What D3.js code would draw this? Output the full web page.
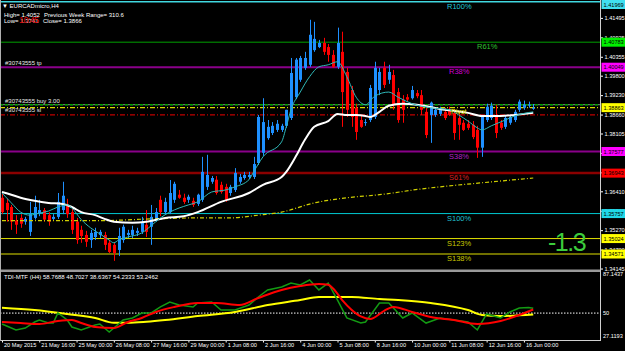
<!DOCTYPE html>
<html>
<head>
<meta charset="utf-8">
<script src="https://cdn.jsdelivr.net/npm/d3@7"></script>
<style>
  html, body { margin: 0; padding: 0; background: #000; overflow: hidden; }
  svg { display: block; }
  text { font-family: "Liberation Sans", Arial, sans-serif; }
</style>
</head>
<body>
<svg id="chart" width="625" height="351"></svg>
<script>
// EURCADmicro H4, 20 May 08:00 .. 16 Jun 08:00 — [open, high, low, close]
const candles = [
  [1.3622,1.3634,1.3574,1.3580],[1.3607,1.3619,1.3552,1.3586],[1.3595,1.3601,1.3528,1.3552],[1.3555,1.3571,1.3516,1.3543],
  [1.3563,1.3574,1.3534,1.3546],[1.3552,1.3566,1.3543,1.3560],[1.3522,1.3610,1.3510,1.3574],[1.3563,1.3628,1.3558,1.3595],
  [1.3577,1.3616,1.3568,1.3586],[1.3586,1.3592,1.3552,1.3558],[1.3571,1.3580,1.3540,1.3552],[1.3560,1.3574,1.3555,1.3566],
  [1.3566,1.3636,1.3560,1.3610],[1.3586,1.3669,1.3574,1.3628],[1.3601,1.3619,1.3563,1.3574],[1.3580,1.3592,1.3516,1.3528],
  [1.3552,1.3563,1.3487,1.3498],[1.3528,1.3540,1.3490,1.3510],[1.3513,1.3525,1.3478,1.3493],[1.3498,1.3528,1.3475,1.3519],
  [1.3507,1.3534,1.3498,1.3522],[1.3513,1.3528,1.3504,1.3522],[1.3513,1.3522,1.3469,1.3484],[1.3490,1.3498,1.3460,1.3463],
  [1.3484,1.3490,1.3437,1.3460],[1.3469,1.3534,1.3451,1.3510],[1.3498,1.3543,1.3490,1.3537],[1.3513,1.3528,1.3504,1.3519],
  [1.3513,1.3540,1.3504,1.3528],[1.3519,1.3534,1.3510,1.3525],[1.3522,1.3566,1.3516,1.3549],[1.3543,1.3586,1.3507,1.3522],
  [1.3537,1.3601,1.3484,1.3566],[1.3558,1.3592,1.3552,1.3580],[1.3616,1.3628,1.3568,1.3580],[1.3580,1.3622,1.3574,1.3610],
  [1.3580,1.3674,1.3574,1.3636],[1.3616,1.3669,1.3607,1.3663],[1.3631,1.3645,1.3619,1.3622],[1.3622,1.3634,1.3604,1.3610],
  [1.3616,1.3631,1.3607,1.3625],[1.3613,1.3622,1.3595,1.3601],[1.3604,1.3634,1.3598,1.3631],[1.3616,1.3742,1.3610,1.3698],
  [1.3654,1.3748,1.3645,1.3689],[1.3669,1.3686,1.3663,1.3680],[1.3675,1.3686,1.3631,1.3636],[1.3660,1.3669,1.3634,1.3639],
  [1.3654,1.3663,1.3610,1.3616],[1.3636,1.3660,1.3628,1.3654],[1.3645,1.3709,1.3639,1.3695],[1.3669,1.3692,1.3663,1.3683],
  [1.3680,1.3698,1.3675,1.3689],[1.3683,1.3698,1.3677,1.3689],[1.3683,1.3742,1.3677,1.3721],[1.3724,1.3865,1.3718,1.3859],
  [1.3754,1.3914,1.3745,1.3844],[1.3797,1.3850,1.3792,1.3830],[1.3812,1.3844,1.3806,1.3833],[1.3821,1.3850,1.3815,1.3839],
  [1.3821,1.3839,1.3815,1.3833],[1.3833,1.3880,1.3827,1.3880],[1.3856,1.4032,1.3850,1.3988],[1.3917,1.4032,1.3911,1.4027],
  [1.3968,1.4038,1.3962,1.4032],[1.4003,1.4050,1.3997,1.4032],[1.4012,1.4144,1.4006,1.4100],[1.4055,1.4138,1.4050,1.4088],
  [1.4064,1.4085,1.4061,1.4076],[1.4076,1.4091,1.4041,1.4050],[1.4064,1.4073,1.4021,1.4041],[1.4041,1.4055,1.4003,1.4006],
  [1.4006,1.4121,1.4000,1.4076],[1.4050,1.4109,1.3830,1.3932],[1.3991,1.4003,1.3859,1.3880],[1.3938,1.3950,1.3830,1.3859],
  [1.3886,1.3898,1.3792,1.3815],[1.3850,1.3862,1.3827,1.3830],[1.3842,1.3853,1.3833,1.3844],[1.3850,1.3953,1.3844,1.3944],
  [1.3859,1.4021,1.3853,1.4003],[1.3938,1.4003,1.3923,1.3991],[1.4003,1.4021,1.3944,1.3953],[1.3968,1.4012,1.3956,1.3991],
  [1.3982,1.3997,1.3880,1.3895],[1.3932,1.3944,1.3842,1.3850],[1.3910,1.3923,1.3842,1.3880],[1.3917,1.3926,1.3904,1.3910],
  [1.3914,1.3950,1.3910,1.3938],[1.3929,1.3938,1.3914,1.3920],[1.3923,1.3938,1.3865,1.3880],[1.3874,1.3886,1.3797,1.3806],
  [1.3865,1.3904,1.3783,1.3901],[1.3865,1.3886,1.3859,1.3880],[1.3868,1.3889,1.3862,1.3883],[1.3874,1.3886,1.3850,1.3856],
  [1.3880,1.3889,1.3862,1.3865],[1.3871,1.3880,1.3792,1.3812],[1.3856,1.3874,1.3792,1.3836],[1.3842,1.3850,1.3818,1.3821],
  [1.3839,1.3850,1.3821,1.3827],[1.3836,1.3847,1.3794,1.3800],[1.3821,1.3833,1.3739,1.3769],[1.3769,1.3865,1.3742,1.3859],
  [1.3850,1.3898,1.3844,1.3889],[1.3856,1.3901,1.3850,1.3892],[1.3865,1.3895,1.3797,1.3812],[1.3842,1.3850,1.3821,1.3827],
  [1.3830,1.3862,1.3824,1.3856],[1.3842,1.3865,1.3836,1.3859],[1.3850,1.3880,1.3844,1.3874],[1.3880,1.3910,1.3874,1.3904],
  [1.3886,1.3907,1.3880,1.3895],[1.3892,1.3904,1.3886,1.3895],[1.3884,1.3897,1.3880,1.3886]
];

// moving averages, [bar index, price]
const maFast = [[0,1.3636],[2,1.3607],[4,1.3580],[6,1.3571],[8,1.3577],[10,1.3583],[12,1.3595],[14,1.3601],[15,1.3592],
  [17,1.3558],[19,1.3534],[21,1.3516],[23,1.3498],[24,1.3490],[25,1.3498],[27,1.3507],[30,1.3519],[32,1.3540],[34,1.3563],
  [36,1.3580],[38,1.3592],[40,1.3601],[42,1.3610],[45,1.3639],[48,1.3645],[50,1.3654],[53,1.3675],[54,1.3698],[56,1.3742],
  [60,1.3786],[61,1.3830],[62,1.3880],[64,1.3932],[66,1.3977],[68,1.4006],[70,1.4012],[72,1.4021],[74,1.3977],[76,1.3917],
  [78,1.3895],[80,1.3920],[83,1.3932],[85,1.3917],[88,1.3898],[92,1.3886],[96,1.3880],[98,1.3865],[100,1.3847],[102,1.3827],
  [103,1.3821],[105,1.3833],[108,1.3850],[110,1.3862],[114,1.3874]];
const maSlow = [[0,1.3639],[2,1.3631],[4,1.3622],[7,1.3613],[10,1.3607],[13,1.3604],[15,1.3595],[17,1.3580],[20,1.3571],
  [22,1.3560],[24,1.3552],[28,1.3549],[31,1.3552],[35,1.3563],[39,1.3568],[42,1.3580],[47,1.3610],[53,1.3636],[56,1.3660],
  [60,1.3683],[61,1.3698],[63,1.3742],[65,1.3792],[67,1.3830],[70,1.3847],[72,1.3868],[74,1.3865],[76,1.3865],[78,1.3862],
  [79,1.3859],[81,1.3874],[83,1.3892],[86,1.3898],[89,1.3895],[95,1.3880],[100,1.3871],[103,1.3862],[107,1.3862],
  [110,1.3865],[114,1.3871]];
const maLong = [[0,1.3555],[21,1.3555],[32,1.3560],[42,1.3563],[49,1.3563],[55,1.3571],[60,1.3580],[67,1.3607],
  [74,1.3622],[81,1.3631],[90,1.3648],[103,1.3666],[114,1.3680]];

// fibo pivot levels
const levelNames  = ['R100%', 'R61%', 'R38%', 'S38%', 'S61%', 'S100%', 'S123%', 'S138%'];
const levelPrices = [1.41969, 1.40783, 1.40049, 1.37577, 1.36943, 1.35757, 1.35024, 1.34571];

// order #30743555
const orderTp = 1.40049, orderOpen = 1.3895, orderSl = 1.3865, pivotPrice = 1.38863;

const priceTicks = [1.41495, 1.40925, 1.40355, 1.39800, 1.39230, 1.38660, 1.38105, 1.37535, 1.36965,
  1.36410, 1.35840, 1.35270, 1.34700, 1.34145];
const timeTickIdx = [0, 8, 16, 24, 32, 40, 48, 56, 64, 72, 80, 88, 96, 104, 112];
const timeLabels = ['20 May 2015', '21 May 16:00', '25 May 00:00', '26 May 08:00', '27 May 16:00', '29 May 00:00',
  '1 Jun 08:00', '2 Jun 16:00', '4 Jun 00:00', '5 Jun 08:00', '8 Jun 16:00', '10 Jun 00:00', '11 Jun 08:00',
  '12 Jun 16:00', '16 Jun 00:00'];

// TDI sub-window, [bar index, value]
const tdiRsi = [[0,40.4],[1,38.6],[3,35.1],[5,36.8],[7,42.1],[8,43.9],[10,41.2],[11,41.2],[12,50.1],[14,43.9],[15,37.7],
  [17,35.1],[20,39.5],[21,40.4],[23,33.3],[24,36.8],[26,43.9],[28,45.7],[30,50.1],[32,50.1],[34,55.4],[36,59.8],[38,57.1],
  [41,55.4],[42,58.9],[45,59.8],[47,52.7],[50,52.7],[53,57.1],[55,64.2],[57,70.4],[60,73.0],[62,76.5],[64,74.8],[66,79.2],
  [68,70.4],[70,76.5],[72,61.5],[74,45.7],[77,41.2],[78,42.1],[81,58.9],[83,58.9],[86,45.7],[88,50.1],[91,41.2],[94,45.7],
  [97,43.9],[100,42.1],[102,35.1],[104,49.2],[107,45.7],[109,51.0],[111,54.5],[113,55.0],[114,54.2]];
const tdiSignal = [[0,42.1],[4,41.2],[8,40.4],[12,43.0],[15,43.9],[17,41.2],[20,37.7],[24,36.8],[27,42.1],[30,45.7],
  [33,51.0],[37,55.4],[42,58.9],[46,58.9],[51,57.1],[55,63.3],[60,70.4],[64,73.9],[68,75.7],[70,75.0],[71,72.0],[73,61.5],
  [75,53.0],[77,47.0],[79,44.8],[82,52.0],[84,55.4],[88,51.0],[92,46.5],[97,43.9],[102,40.4],[107,43.0],[111,48.3],[114,53.2]];
const tdiBase = [[0,54.8],[7,52.7],[14,49.2],[20,45.7],[24,41.5],[27,41.5],[31,42.4],[35,43.9],[42,47.4],[50,51.0],
  [57,57.1],[64,61.5],[68,64.2],[75,64.2],[81,62.4],[85,61.5],[92,58.9],[100,52.7],[103,48.3],[107,47.4],[114,48.7]];
const tdiLegend = [58.7688, 48.7027, 38.6367, 54.2333, 53.2462];
const tdiAxis = [87.1437, 50, 27.1193];

// ---- styles ----
const LEVEL_LINE = {'R100%':'#40d8e0','R61%':'#00a000','R38%':'#8a008a','S38%':'#8a008a','S61%':'#8b0000',
  'S100%':'#00c8d0','S123%':'#e0e000','S138%':'#e0e000'};
const LEVEL_TEXT = {'R100%':'#20c8d8','R61%':'#30c030','R38%':'#d000d0','S38%':'#b020c8','S61%':'#d82020',
  'S100%':'#20c0d0','S123%':'#c8c800','S138%':'#c8c800'};
const LEVEL_WIDTH = {'R38%':2,'S38%':2,'S61%':2.5,'R100%':1.5};
const LEVEL_BOX = {'R100%':'#40e0f0','R61%':'#00f000','R38%':'#ff00ff','S38%':'#ff00ff','S61%':'#ff0000',
  'S100%':'#20d8e8','S123%':'#ffff00','S138%':'#ffff00'};
const LEVEL_LABEL_X = {'R61%':477,'R100%':447,'S100%':447,'S123%':447,'S138%':447};
const BULL = '#1e90ff', BEAR = '#ff0000';
const SMALL = '5.6px';

const svg = d3.select('#chart');
const axisX = 601;
const mainBottom = 267;

const x = d3.scaleLinear().domain([0, 114]).range([2, 2 + 114 * 4.66]);
const y = d3.scaleLinear().domain([1.3419, 1.4202]).range([mainBottom, 0]);
const yT = d3.scaleLinear().domain([27.1193, 87.1437]).range([339, 271]);

svg.append('rect').attr('width', 625).attr('height', 351).attr('fill', '#000');

const defs = svg.append('defs');
defs.append('clipPath').attr('id', 'clipMain').append('rect').attr('x', 0).attr('y', 0).attr('width', axisX).attr('height', mainBottom);
defs.append('clipPath').attr('id', 'clipTdi').append('rect').attr('x', 0).attr('y', 272).attr('width', axisX).attr('height', 68);

const main = svg.append('g').attr('clip-path', 'url(#clipMain)');

// Level lines
levelNames.forEach((name, k) => {
  main.append('line')
    .attr('x1', 0).attr('x2', axisX).attr('y1', y(levelPrices[k])).attr('y2', y(levelPrices[k]))
    .attr('stroke', LEVEL_LINE[name]).attr('stroke-width', LEVEL_WIDTH[name] || 1);
});

// Order / pivot lines
main.append('line').attr('x1', 0).attr('x2', axisX).attr('y1', y(orderOpen)).attr('y2', y(orderOpen))
  .attr('stroke', '#7a8a7a').attr('stroke-width', 1);
main.append('line').attr('x1', 0).attr('x2', axisX).attr('y1', y(orderOpen)).attr('y2', y(orderOpen))
  .attr('stroke', '#00a000').attr('stroke-width', 1.5).attr('stroke-dasharray', '3,2');
main.append('line').attr('x1', 0).attr('x2', axisX).attr('y1', y(pivotPrice)).attr('y2', y(pivotPrice))
  .attr('stroke', '#d8d800').attr('stroke-width', 1.2).attr('stroke-dasharray', '5,2,1,2');
main.append('line').attr('x1', 0).attr('x2', axisX).attr('y1', y(orderSl)).attr('y2', y(orderSl))
  .attr('stroke', '#c00000').attr('stroke-width', 1.2).attr('stroke-dasharray', '5,2,1,2');

// Candles
const cg = main.append('g');
candles.forEach((c, i) => {
  const [o, h, l, cl] = c;
  const col = cl >= o ? BULL : BEAR;
  const cx = Math.round(x(i)) + 0.5;
  cg.append('line').attr('x1', cx).attr('x2', cx).attr('y1', y(h)).attr('y2', y(l))
    .attr('stroke', col).attr('stroke-width', 1);
  const top = y(Math.max(o, cl)), bot = y(Math.min(o, cl));
  cg.append('rect').attr('x', cx - 1.5).attr('y', top).attr('width', 3).attr('height', Math.max(1, bot - top))
    .attr('fill', col);
});

// Moving averages
const maLine = d3.line().x(d => x(d[0])).y(d => y(d[1])).curve(d3.curveMonotoneX);
main.append('path').datum(maLong).attr('d', maLine).attr('fill', 'none')
  .attr('stroke', '#d0d000').attr('stroke-width', 1.2).attr('stroke-dasharray', '4,2,1,2');
main.append('path').datum(maSlow).attr('d', maLine).attr('fill', 'none')
  .attr('stroke', '#ffffff').attr('stroke-width', 2);
main.append('path').datum(maFast).attr('d', maLine).attr('fill', 'none')
  .attr('stroke', '#2fb8b8').attr('stroke-width', 1);

// Level labels
levelNames.forEach((name, k) => {
  main.append('text')
    .attr('x', LEVEL_LABEL_X[name] || 449).attr('y', y(levelPrices[k]) + 7)
    .attr('fill', LEVEL_TEXT[name]).attr('font-size', '7.5px')
    .text(name);
});
main.append('text').attr('x', 451).attr('y', y(pivotPrice) + 6).attr('fill', '#e8e800')
  .attr('font-size', '7px').text('Pivot');

// Order texts
const orderTexts = [['#30743555 tp', orderTp, -2], ['#30743555 buy 3.00', orderOpen, -1.5], ['#30743555 sl', orderSl, -2.5]];
orderTexts.forEach(([t, p, dy]) => {
  main.append('text').attr('x', 5).attr('y', y(p) + dy).attr('fill', '#e8e8e8').attr('font-size', '6px').text(t);
});

// Big value
main.append('text').attr('x', 548).attr('y', 251).attr('fill', '#3ccc3c')
  .attr('font-size', '25px').attr('letter-spacing', '-1.5px').text('-1.3');

// Info text
svg.append('text').attr('x', 2).attr('y', 7.5).attr('fill', '#fff').attr('font-size', '6px').text('\u25BC EURCADmicro,H4');
svg.append('text').attr('x', 4).attr('y', 16.5).attr('fill', '#fff').attr('font-size', '6px').text('High= 1.4052');
svg.append('text').attr('x', 44).attr('y', 16.5).attr('fill', '#fff').attr('font-size', '6px').text('Previous Week Range= 310.6');
svg.append('text').attr('x', 4).attr('y', 22.5).attr('fill', '#fff').attr('font-size', '6px').text('Low= 1.3741');
svg.append('text').attr('x', 43).attr('y', 22.5).attr('fill', '#fff').attr('font-size', '6px').text('Close= 1.3866');
svg.append('text').attr('x', 19).attr('y', 23).attr('fill', '#e00000').attr('font-size', '9px')
  .attr('letter-spacing', '-0.6px').text('10:45');

// Price axis
const pAxis = svg.append('g').attr('transform', `translate(${axisX},0)`)
  .call(d3.axisRight(y).tickValues(priceTicks).tickFormat(d3.format('.5f')).tickSize(2).tickPadding(1.5));
pAxis.select('.domain').remove();
pAxis.selectAll('.tick line').attr('stroke', '#fff');
pAxis.selectAll('.tick text').attr('fill', '#fff').attr('font-size', SMALL)
  .attr('font-family', '"Liberation Sans", Arial, sans-serif');

// Level price boxes
levelNames.forEach((name, k) => {
  const yy = Math.max(4.5, y(levelPrices[k]));
  svg.append('rect').attr('x', axisX + 0.5).attr('y', yy - 4.5).attr('width', 24).attr('height', 9)
    .attr('fill', LEVEL_BOX[name]);
  svg.append('text').attr('x', axisX + 2.5).attr('y', yy + 2.1).attr('fill', '#000').attr('font-size', SMALL)
    .text(levelPrices[k].toFixed(5));
});
{
  const yy = y(pivotPrice);
  svg.append('rect').attr('x', axisX + 0.5).attr('y', yy - 4.5).attr('width', 24).attr('height', 9).attr('fill', '#ffff00');
  svg.append('text').attr('x', axisX + 2.5).attr('y', yy + 2.1).attr('fill', '#000').attr('font-size', SMALL)
    .text(pivotPrice.toFixed(5));
}

// Panel separator
svg.append('rect').attr('x', 0).attr('y', 269.5).attr('width', axisX).attr('height', 2.5).attr('fill', '#9a9a9a');

// TDI panel
const tdi = svg.append('g').attr('clip-path', 'url(#clipTdi)');
tdi.append('line').attr('x1', 0).attr('x2', axisX).attr('y1', yT(50)).attr('y2', yT(50))
  .attr('stroke', '#fff').attr('stroke-width', 1).attr('stroke-dasharray', '1.5,1.5');
const tLine = d3.line().x(d => x(d[0])).y(d => yT(d[1]));
tdi.append('path').datum(tdiBase).attr('d', tLine.curve(d3.curveMonotoneX)).attr('fill', 'none')
  .attr('stroke', '#ffff00').attr('stroke-width', 2);
tdi.append('path').datum(tdiRsi).attr('d', d3.line().x(d => x(d[0])).y(d => yT(d[1]))).attr('fill', 'none')
  .attr('stroke', '#139a13').attr('stroke-width', 1.5);
tdi.append('path').datum(tdiSignal).attr('d', d3.line().x(d => x(d[0])).y(d => yT(d[1])).curve(d3.curveMonotoneX))
  .attr('fill', 'none').attr('stroke', '#ff0000').attr('stroke-width', 2);

svg.append('text').attr('x', 4).attr('y', 279).attr('fill', '#fff').attr('font-size', '6px')
  .text('TDI-MTF (H4) ' + tdiLegend.map(v => v.toFixed(4)).join(' '));

tdiAxis.forEach(v => {
  const yy = Math.min(337.5, Math.max(276, yT(v) + 2.1));
  svg.append('text').attr('x', axisX + 2).attr('y', yy).attr('fill', '#fff').attr('font-size', SMALL)
    .text(v === 50 ? '50' : v.toFixed(4));
});

// Time axis
const tAxis = svg.append('g').attr('transform', 'translate(0,340)')
  .call(d3.axisBottom(x).tickValues(timeTickIdx).tickFormat((d, k) => timeLabels[k]).tickSize(2.5).tickPadding(1));
tAxis.select('.domain').remove();
tAxis.selectAll('.tick line').attr('stroke', '#fff');
tAxis.selectAll('.tick text').attr('fill', '#fff').attr('font-size', SMALL).attr('text-anchor', 'start')
  .attr('dx', '1.5px').attr('font-family', '"Liberation Sans", Arial, sans-serif');

// Frame
svg.append('line').attr('x1', 0).attr('x2', axisX).attr('y1', 340.5).attr('y2', 340.5).attr('stroke', '#d0d0d0');
svg.append('line').attr('x1', axisX - 0.5).attr('x2', axisX - 0.5).attr('y1', 0).attr('y2', 341).attr('stroke', '#d0d0d0');
svg.append('line').attr('x1', 0.5).attr('x2', 0.5).attr('y1', 0).attr('y2', 341).attr('stroke', '#b0b0b0');
</script>
</body>
</html>
